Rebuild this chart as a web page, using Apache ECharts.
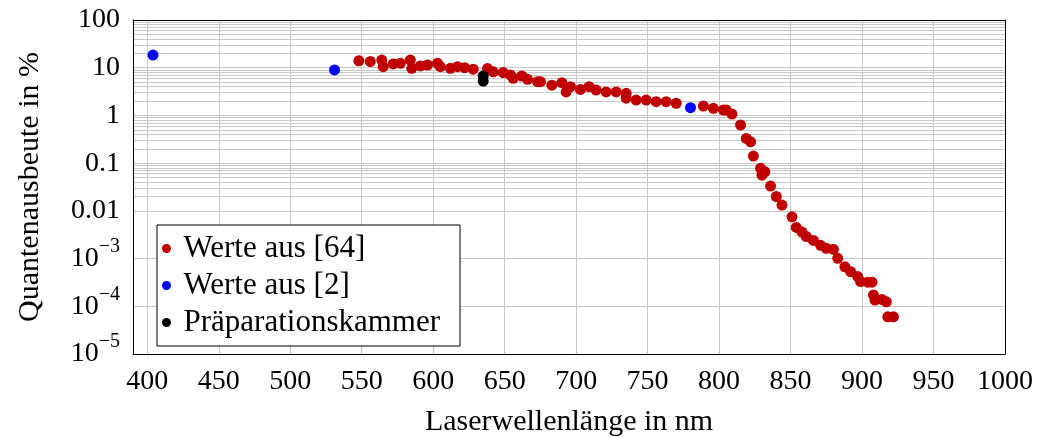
<!DOCTYPE html>
<html>
<head>
<meta charset="utf-8">
<script src="https://cdn.jsdelivr.net/npm/echarts@6/dist/echarts.min.js"></script>
<style>html,body{margin:0;padding:0;background:#fff}#c{width:1040px;height:438px}</style>
</head>
<body>
<div id="c"></div>
<script>
// ---- data ----
const redX = [548,556,564,565,572,577,584,585,591,596,603,605,612,617,622,628,638,642,649,654,656,662,666,673,675,683,690,693,696,703,709,714,721,728,735,735,742,749,756,763,770,789,796,803,805,809,815,819,822,824,829,830,832,836,840,844,851,854,858,861,866,871,875,880,883,888,892,897,899,904,907,908,909,914,917,918,922];
const redY = [14,13.5,14.5,10.5,12,12.4,14.5,9.7,10.9,11.4,12.4,10.5,9.7,10.5,10,9.3,9.6,8.2,7.9,7.0,6.0,6.7,5.7,5.1,5.1,4.3,4.85,3.1,4.0,3.5,4.0,3.4,3.1,3.1,2.9,2.3,2.1,2.1,1.94,1.94,1.8,1.57,1.41,1.3,1.3,1.07,0.63,0.33,0.28,0.141,0.078,0.056,0.066,0.033,0.020,0.0132,0.0075,0.0045,0.0036,0.0029,0.0024,0.0019,0.00164,0.00156,0.00101,0.00067,0.00053,0.00042,0.00033,0.00032,0.00032,0.000172,0.000135,0.000138,0.000124,0.00006,0.00006];
const blueX = [404,531,780];
const blueY = [18.4,9.0,1.45];
const blackX = [635,635];
const blackY = [6.7,5.25];
const seriesNames = ['Werte aus [64]','Werte aus [2]','Präparationskammer'];
const xTicks = [400,450,500,550,600,650,700,750,800,850,900,950,1000];

const FONT = 'Liberation Serif';
function pts(xs, ys){ return xs.map((x,i)=>[x, ys[i]]); }

// grid line positions: minor horizontal (2..9 per decade) and vertical at x ticks
const gridLines = [];
for (let d = -5; d <= 1; d++) for (let k = 2; k <= 9; k++) gridLines.push({yAxis: k*Math.pow(10,d)});
xTicks.forEach(v => { if (v < 1000) gridLines.push({xAxis: v}); });

const chart = echarts.init(document.getElementById('c'), null, {renderer:'canvas'});
chart.setOption({
  animation:false,
  backgroundColor:'#fff',
  textStyle:{fontFamily:FONT},
  grid:{left:133,right:35,top:20,bottom:84,containLabel:false,outerBoundsMode:'none'},
  legend:{
    data:seriesNames, orient:'vertical', left:157, top:225,
    backgroundColor:'#fff', borderColor:'#000', borderWidth:1,
    padding:[8,20,8,5], itemGap:6, icon:'circle', itemWidth:16, itemHeight:9,
    textStyle:{fontFamily:FONT, fontSize:31, lineHeight:30, color:'#000', padding:[0,0,0,4]}
  },
  xAxis:[{
    type:'value', min:390, max:1000, interval:10,
    name:'Laserwellenlänge in nm', nameLocation:'middle', nameGap:53,
    nameTextStyle:{fontFamily:FONT,fontSize:30,color:'#000'},
    axisLine:{show:true,lineStyle:{color:'#000',width:1}},
    axisTick:{show:false}, splitLine:{show:false},
    axisLabel:{fontFamily:FONT,fontSize:28,color:'#000',margin:14,
      formatter:v=> (v%50===0 ? String(v) : '')}
  },{
    type:'value', position:'top', min:390, max:1000, z:5,
    axisLine:{show:true,lineStyle:{color:'#000',width:1}},
    axisTick:{show:false}, axisLabel:{show:false}, splitLine:{show:false}
  }],
  yAxis:[{
    type:'log', logBase:10, min:1e-5, max:100,
    name:'Quantenausbeute in %', nameLocation:'middle', nameGap:88,
    nameTextStyle:{fontFamily:FONT,fontSize:30,color:'#000'},
    axisLine:{show:true,lineStyle:{color:'#000',width:1}},
    axisTick:{show:false},
    splitLine:{show:true,lineStyle:{color:'#c8c8c8',width:1}},
    axisLabel:{fontFamily:FONT,fontSize:28,color:'#000',margin:13,
      formatter:v=>{
        const e = Math.round(Math.log10(v));
        if (e >= -2) return '{b|' + (e>=0 ? String(Math.pow(10,e)) : (e===-1?'0.1':'0.01')) + '}';
        return '{b|10}{s|−' + (-e) + '}';
      },
      rich:{
        b:{fontFamily:FONT,fontSize:28,color:'#000'},
        s:{fontFamily:FONT,fontSize:20,color:'#000',padding:[0,0,24,0]}
      }
    }
  },{
    type:'log', logBase:10, min:1e-5, max:100, position:'right', z:5,
    axisLine:{show:true,lineStyle:{color:'#000',width:1}},
    axisTick:{show:false}, axisLabel:{show:false}, splitLine:{show:false}
  }],
  series:[
    {name:'grid', type:'scatter', data:[], silent:true, z:0,
     markLine:{silent:true, symbol:'none', animation:false, z:0,
       label:{show:false}, lineStyle:{color:'#c8c8c8',type:'solid',width:1},
       emphasis:{disabled:true}, data:gridLines}},
    {name:seriesNames[0], type:'scatter', data:pts(redX,redY), symbolSize:11,
     itemStyle:{color:'#c00000',opacity:1}, z:3},
    {name:seriesNames[1], type:'scatter', data:pts(blueX,blueY), symbolSize:11,
     itemStyle:{color:'#0000ff',opacity:1}, z:4},
    {name:seriesNames[2], type:'scatter', data:pts(blackX,blackY), symbolSize:11,
     itemStyle:{color:'#000',opacity:1}, z:4}
  ]
});
</script>
</body>
</html>
